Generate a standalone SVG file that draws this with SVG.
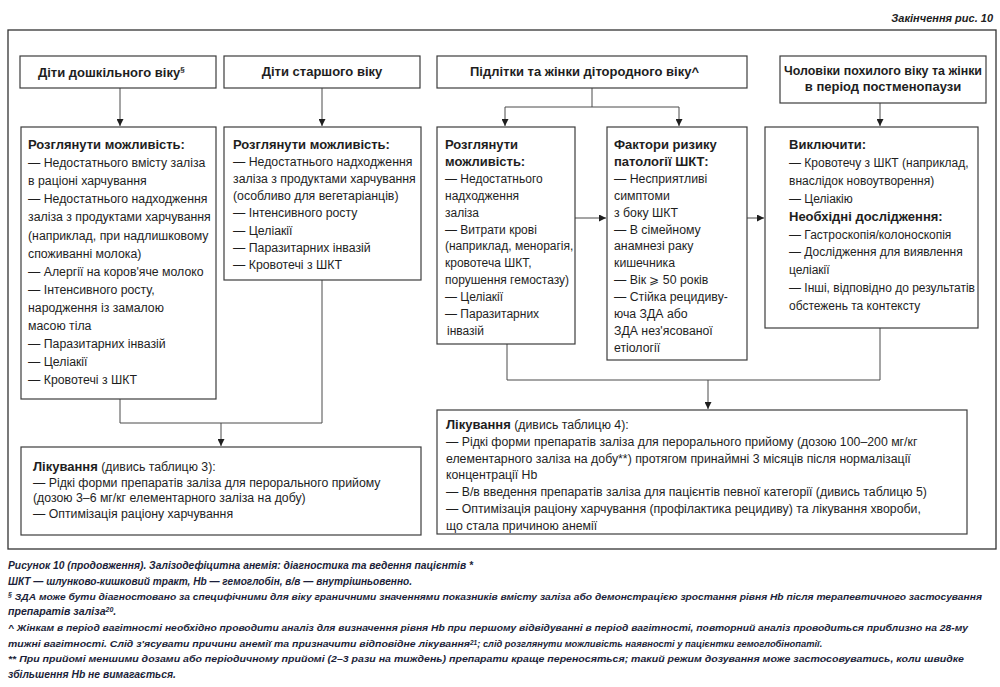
<svg xmlns="http://www.w3.org/2000/svg" width="1000" height="687" viewBox="0 0 1000 687">
<defs>
<style>
text{font-family:"Liberation Sans",Arial,sans-serif;fill:#1e1e1e}
.t{font-size:12.3px}
.s{font-size:12px}
.h{font-size:13px;font-weight:bold}
.b{font-weight:bold}
.box{fill:#fff;stroke:#3c3c3c;stroke-width:1.2}
.c{fill:none;stroke:#4a4a4a;stroke-width:1}
.cap{font-size:10.6px;font-weight:bold;font-style:italic;fill:#1c1f3a}
.cs{font-size:9.8px}
</style>
<marker id="ar" viewBox="0 0 10 10" refX="10" refY="5" markerWidth="7" markerHeight="7" orient="auto" markerUnits="userSpaceOnUse">
<path d="M0,0 L10,5 L0,10 z" fill="#1e1e1e"/>
</marker>
</defs>
<rect width="1000" height="687" fill="#fff"/>
<text x="993" y="22" text-anchor="end" class="cap" style="fill:#222;font-size:11px">Закінчення рис. 10</text>
<rect x="8" y="30" width="988" height="519" fill="none" stroke="#333" stroke-width="1.3"/>

<g id="connectors">
<path class="c" d="M120,88 V126" marker-end="url(#ar)"/>
<path class="c" d="M322,88 V126" marker-end="url(#ar)"/>
<path class="c" d="M592,88 V107 M505,107 H679"/>
<path class="c" d="M505,107 V126" marker-end="url(#ar)"/>
<path class="c" d="M679,107 V126" marker-end="url(#ar)"/>
<path class="c" d="M880,103 V126" marker-end="url(#ar)"/>
<path class="c" d="M575,218 H606" marker-end="url(#ar)"/>
<path class="c" d="M747,218 H764" marker-end="url(#ar)"/>
<path class="c" d="M120,399 V423 H322 V280"/>
<path class="c" d="M221,423 V446" marker-end="url(#ar)"/>
<path class="c" d="M507,344 V380 H880 V328"/>
<path class="c" d="M708,380 V409" marker-end="url(#ar)"/>
</g>

<g id="n1">
<rect class="box" x="20" y="56" width="196" height="32"/>
<text class="h" x="38" y="77">Діти дошкільного віку<tspan font-size="8" dy="-5">§</tspan></text>
</g>
<g id="n2">
<rect class="box" x="224" y="56" width="196" height="32"/>
<text class="h" x="322" y="76" text-anchor="middle">Діти старшого віку</text>
</g>
<g id="n3">
<rect class="box" x="437" y="56" width="310" height="32"/>
<text class="h" x="470" y="76">Підлітки та жінки дітородного віку^</text>
</g>
<g id="n4">
<rect class="box" x="780" y="56" width="206" height="47"/>
<text class="h" x="784" y="75" textLength="198" lengthAdjust="spacingAndGlyphs">Чоловіки похилого віку та жінки</text>
<text class="h" x="883" y="91" text-anchor="middle">в період постменопаузи</text>
</g>

<g id="nA">
<rect class="box" x="21" y="127" width="195" height="272"/>
<text class="t" x="28" y="149"><tspan class="b" font-size="13">Розглянути можливість:</tspan>
<tspan x="28" dy="18.1">— Недостатнього вмісту заліза</tspan>
<tspan x="28" dy="18.1">в раціоні харчування</tspan>
<tspan x="28" dy="18.1">— Недостатнього надходження</tspan>
<tspan x="28" dy="18.1">заліза з продуктами харчування</tspan>
<tspan x="28" dy="18.1">(наприклад, при надлишковому</tspan>
<tspan x="28" dy="18.1">споживанні молока)</tspan>
<tspan x="28" dy="18.1">— Алергії на коров'яче молоко</tspan>
<tspan x="28" dy="18.1">— Інтенсивного росту,</tspan>
<tspan x="28" dy="18.1">народження із замалою</tspan>
<tspan x="28" dy="18.1">масою тіла</tspan>
<tspan x="28" dy="18.1">— Паразитарних інвазій</tspan>
<tspan x="28" dy="18.1">— Целіакії</tspan>
<tspan x="28" dy="18.1">— Кровотечі з ШКТ</tspan></text>
</g>

<g id="nB">
<rect class="box" x="224" y="127" width="197" height="153"/>
<text class="t" x="233" y="149"><tspan class="b" font-size="13">Розглянути можливість:</tspan>
<tspan x="233" dy="17.1">— Недостатнього надходження</tspan>
<tspan x="233" dy="17.1">заліза з продуктами харчування</tspan>
<tspan x="233" dy="17.1">(особливо для вегетаріанців)</tspan>
<tspan x="233" dy="17.1">— Інтенсивного росту</tspan>
<tspan x="233" dy="17.1">— Целіакії</tspan>
<tspan x="233" dy="17.1">— Паразитарних інвазій</tspan>
<tspan x="233" dy="17.1">— Кровотечі з ШКТ</tspan></text>
</g>

<g id="nC">
<rect class="box" x="437" y="127" width="138" height="217"/>
<text class="s" x="445" y="149"><tspan class="b" font-size="13">Розглянути</tspan>
<tspan x="445" dy="16.9" class="b" font-size="13">можливість:</tspan>
<tspan x="445" dy="16.9">— Недостатнього</tspan>
<tspan x="445" dy="16.9">надходження</tspan>
<tspan x="445" dy="16.9">заліза</tspan>
<tspan x="445" dy="16.9">— Витрати крові</tspan>
<tspan x="445" dy="16.9">(наприклад, менорагія,</tspan>
<tspan x="445" dy="16.9">кровотеча ШКТ,</tspan>
<tspan x="445" dy="16.9">порушення гемостазу)</tspan>
<tspan x="445" dy="16.9">— Целіакії</tspan>
<tspan x="445" dy="16.9">— Паразитарних</tspan>
<tspan x="447" dy="16.9">інвазій</tspan></text>
</g>

<g id="nD">
<rect class="box" x="607" y="127" width="140" height="233"/>
<text class="t" x="614" y="149"><tspan class="b" font-size="13">Фактори ризику</tspan>
<tspan x="614" dy="16.9" class="b" font-size="13">патології ШКТ:</tspan>
<tspan x="614" dy="16.9">— Несприятливі</tspan>
<tspan x="614" dy="16.9">симптоми</tspan>
<tspan x="614" dy="16.9">з боку ШКТ</tspan>
<tspan x="614" dy="16.9">— В сімейному</tspan>
<tspan x="614" dy="16.9">анамнезі раку</tspan>
<tspan x="614" dy="16.9">кишечника</tspan>
<tspan x="614" dy="16.9">— Вік ⩾ 50 років</tspan>
<tspan x="614" dy="16.9">— Стійка рецидиву-</tspan>
<tspan x="614" dy="16.9">юча ЗДА або</tspan>
<tspan x="614" dy="16.9">ЗДА нез'ясованої</tspan>
<tspan x="614" dy="16.9">етіології</tspan></text>
</g>

<g id="nE">
<rect class="box" x="765" y="127" width="213" height="201"/>
<text class="s" x="789" y="149"><tspan class="b" font-size="13">Виключити:</tspan>
<tspan x="789" dy="17.9">— Кровотечу з ШКТ (наприклад,</tspan>
<tspan x="789" dy="17.9">внаслідок новоутворення)</tspan>
<tspan x="789" dy="17.9">— Целіакію</tspan>
<tspan x="789" dy="17.9" class="b" font-size="13">Необхідні дослідження:</tspan>
<tspan x="789" dy="17.9">— Гастроскопія/колоноскопія</tspan>
<tspan x="789" dy="17.9">— Дослідження для виявлення</tspan>
<tspan x="789" dy="17.9">целіакії</tspan>
<tspan x="789" dy="17.9">— Інші, відповідно до результатів</tspan>
<tspan x="789" dy="17.9">обстежень та контексту</tspan></text>
</g>

<g id="nT1">
<rect class="box" x="21" y="447" width="400" height="88"/>
<text class="t" x="33" y="471"><tspan class="b" font-size="13">Лікування</tspan> (дивись таблицю 3):
<tspan x="33" dy="15.7">— Рідкі форми препаратів заліза для перорального прийому</tspan>
<tspan x="33" dy="15.7">(дозою 3–6 мг/кг елементарного заліза на добу)</tspan>
<tspan x="33" dy="15.7">— Оптимізація раціону харчування</tspan></text>
</g>

<g id="nT2">
<rect class="box" x="437" y="410" width="530" height="124"/>
<text class="t" x="446" y="429"><tspan class="b" font-size="13">Лікування</tspan> (дивись таблицю 4):
<tspan x="446" dy="16.8">— Рідкі форми препаратів заліза для перорального прийому (дозою 100–200 мг/кг</tspan>
<tspan x="446" dy="16.8">елементарного заліза на добу**) протягом принаймні 3 місяців після нормалізації</tspan>
<tspan x="446" dy="16.8">концентрації Hb</tspan>
<tspan x="446" dy="16.8">— В/в введення препаратів заліза для пацієнтів певної категорії (дивись таблицю 5)</tspan>
<tspan x="446" dy="16.8">— Оптимізація раціону харчування (профілактика рецидиву) та лікування хвороби,</tspan>
<tspan x="446" dy="16.8">що стала причиною анемії</tspan></text>
</g>

<g id="caption">
<text class="cap" x="8" y="569" textLength="465" lengthAdjust="spacingAndGlyphs">Рисунок 10 (продовження). Залізодефіцитна анемія: діагностика та ведення пацієнтів *</text>
<text class="cap" x="8" y="585" textLength="404" lengthAdjust="spacingAndGlyphs">ШКТ — шлунково-кишковий тракт, Hb — гемоглобін, в/в — внутрішньовенно.</text>
<text class="cap cs" x="8" y="600"><tspan font-size="7" dy="-3">§</tspan><tspan dy="3" textLength="970" lengthAdjust="spacingAndGlyphs"> ЗДА може бути діагностовано за специфічними для віку граничними значеннями показників вмісту заліза або демонстрацією зростання рівня Hb після терапевтичного застосування</tspan></text>
<text class="cap" x="8" y="615">препаратів заліза<tspan font-size="7" dy="-3">20</tspan><tspan dy="3">.</tspan></text>
<text class="cap cs" x="8" y="631" textLength="960" lengthAdjust="spacingAndGlyphs">^ Жінкам в період вагітності необхідно проводити аналіз для визначення рівня Hb при першому відвідуванні в період вагітності, повторний аналіз проводиться приблизно на 28-му</text>
<text class="cap cs" x="8" y="647"><tspan textLength="462" lengthAdjust="spacingAndGlyphs">тижні вагітності. Слід з'ясувати причини анемії та призначити відповідне лікування</tspan><tspan font-size="6.5" dy="-2.5">21</tspan><tspan dy="2.5" textLength="345" lengthAdjust="spacingAndGlyphs">; слід розглянути можливість наявності у пацієнтки гемоглобінопатії.</tspan></text>
<text class="cap cs" x="8" y="662" textLength="956" lengthAdjust="spacingAndGlyphs">** При прийомі меншими дозами або періодичному прийомі (2–3 рази на тиждень) препарати краще переносяться; такий режим дозування може застосовуватись, коли швидке</text>
<text class="cap" x="8" y="678" textLength="168" lengthAdjust="spacingAndGlyphs">збільшення Hb не вимагається.</text>
</g>
</svg>
